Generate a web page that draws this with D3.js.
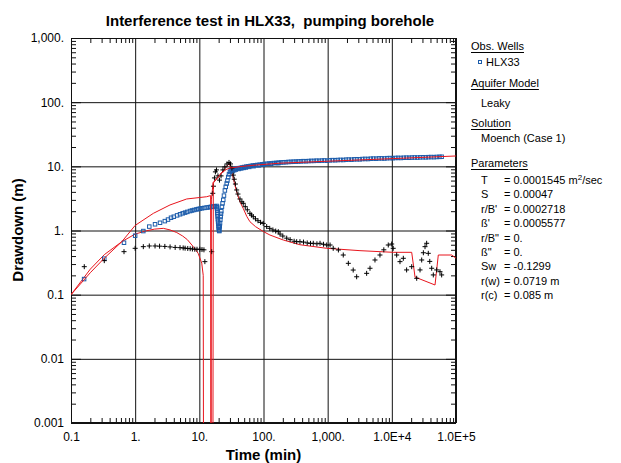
<!DOCTYPE html>
<html>
<head>
<meta charset="utf-8">
<script src="https://cdn.jsdelivr.net/npm/d3@7"></script>
<style>
  body { margin: 0; background: #fff; }
  svg { font-family: "Liberation Sans", Arial, sans-serif; }
  .title { white-space: pre; }
</style>
</head>
<body>
<svg id="chart" width="621" height="463"></svg>
<script>
"use strict";

// ---- data (time in min, drawdown in m) ----
const xDecades = [0.1, 1, 10, 100, 1000, 1e4, 1e5];
const xTickLabels = ["0.1", "1.", "10.", "100.", "1,000.", "1.0E+4", "1.0E+5"];
const yDecades = [0.001, 0.01, 0.1, 1, 10, 100, 1000];
const yTickLabels = ["0.001", "0.01", "0.1", "1.", "10.", "100.", "1,000."];

// HLX33 observed drawdown (blue squares)
const obsHLX33 = [
  [0.16,0.175],[0.33,0.364],[0.67,0.645],[1.0,0.83],[1.34,0.98],[1.66,1.15],[2.04,1.25],
  [2.44,1.32],[2.9,1.40],[3.25,1.48],[3.62,1.58],[4.0,1.64],[4.5,1.72],[5.0,1.79],[5.5,1.85],
  [6.0,1.90],[6.5,1.95],[7.15,2.01],[7.7,2.05],[8.3,2.09],[9.0,2.13],[9.6,2.16],[10.2,2.19],
  [11,2.22],[12,2.25],[13,2.28],[14,2.30],[14.7,2.32],[15.5,2.34],[16.5,2.36],[17.5,2.39],[18.6,2.41],
  [18.8,2.3],[18.9,2.2],[19.0,2.05],[19.1,1.9],[19.2,1.78],[19.3,1.65],[19.45,1.5],[19.6,1.38],
  [19.75,1.27],[19.9,1.17],[20.05,1.1],[20.2,1.04],[20.35,1.0],[20.5,0.98],
  [20.8,1.15],[21.0,1.3],[21.25,1.48],[21.5,1.65],[21.75,1.82],[22.0,2.0],[22.5,2.35],[23.0,2.65],
  [23.6,3.0],[24.2,3.5],[25.0,4.2],[25.8,4.8],[26.7,5.4],[27.4,6.0],[28.2,6.8],[29.0,7.5],[30,8.2],
  [31,8.6],[32,8.8],[34,9.0],[36,9.2],[38,9.25],[40,9.35],[43,9.4],[46,9.6],[50,9.75],[54,9.9],
  [58,10.0],[63,10.15],[68,10.3],[74,10.4],[80,10.5],[87,10.6],[95,10.75],[103,10.85],[112,10.95],
  [122,11.05],[133,11.1],[145,11.25],[158,11.3],[172,11.4],[188,11.5],[205,11.55],[224,11.6],
  [245,11.7],[268,11.75],[293,11.8],[320,11.85],[350,11.9],[383,11.95],[420,12.05],[460,12.0],
  [505,12.1],[555,12.15],[610,12.15],[670,12.25],[735,12.2],[810,12.3],[890,12.35],[980,12.25],
  [1080,12.4],[1190,12.5],[1310,12.45],[1440,12.55],[1590,12.6],[1750,12.55],[1930,12.7],
  [2130,12.75],[2350,12.7],[2590,12.85],[2860,12.9],[3150,12.85],[3480,13.0],[3840,13.05],
  [4240,13.0],[4680,13.15],[5160,13.2],[5700,13.15],[6290,13.3],[6940,13.3],[7660,13.25],
  [8450,13.4],[9330,13.45],[10300,13.4],[11400,13.5],[12500,13.55],[13800,13.5],[15300,13.6],
  [16900,13.65],[18600,13.6],[20500,13.7],[22700,13.75],[25000,13.7],[27600,13.8],[30500,13.85],
  [33700,13.8],[37200,13.9],[41000,13.95],[45300,13.9],[50000,14.0],[55200,14.05],[59800,14.1],
  // lower edge of the scattered band after restart
  [33,8.4],[35,8.7],[37,8.9],[41,9.1],[45,9.3],[49,9.45],[53,9.6],[60,9.8],[70,10.05],
  [85,10.35],[100,10.6],[130,10.9],[170,11.2]
];

// derivative of observed drawdown (black crosses)
const obsDerivative = [
  [0.161,0.273],[0.33,0.339],[0.67,0.468],[1.0,0.528],[1.34,0.56],[1.66,0.574],[2.04,0.574],
  [2.4,0.57],[2.9,0.565],[3.5,0.555],[4.2,0.545],[5.0,0.54],[5.6,0.535],[6.0,0.53],[6.6,0.525],
  [7.2,0.52],[7.8,0.515],[8.5,0.51],[9.2,0.51],[10.2,0.51],[11.0,0.505],[11.8,0.50],
  [12.2,0.327],[15.6,0.468],
  [16.2,3.8],[16.6,4.9],[17.2,6.6],[17.8,8.2],[18.5,8.8],[19.5,7.1],[20.6,6.1],[21.8,7.1],
  [23.3,8.8],[25,9.8],[27,10.9],[29,11.5],[30.6,10.9],[32.2,9.4],[33.8,7.3],[35,6.3],[36.5,5.3],
  [38.2,4.28],[40,3.7],[43,3.1],[46,2.8],[48.4,2.65],[52,2.35],[56,2.1],[61.5,1.85],[65,1.74],
  [69.3,1.64],[75,1.52],[82,1.42],[90,1.34],[99,1.29],[112,1.15],[125,1.08],[140,1.02],
  [155,0.98],[170,0.958],[181,0.88],[200,0.82],[230,0.76],[260,0.72],[300,0.68],[329,0.669],
  [370,0.669],[420,0.66],[480,0.64],[540,0.63],[597,0.632],[680,0.62],[760,0.632],[860,0.61],
  [966,0.594],[1090,0.594],[1220,0.528],[1470,0.497],[1750,0.415],[2100,0.308],[2500,0.242],
  [2830,0.19],[4050,0.215],[4570,0.258],[5460,0.347],[6530,0.415],[7500,0.5],[8800,0.594],
  [9950,0.616],[10500,0.528],[11900,0.415],[13400,0.327],[15100,0.369],[17000,0.243],
  [20400,0.273],[24400,0.18],[27500,0.243],[29200,0.347],[31000,0.45],[32900,0.56],
  [34900,0.632],[37000,0.441],[39000,0.33],[41800,0.258],[44300,0.203],[50000,0.243],
  [56300,0.228],[59800,0.203]
];

// Moench (Case 1) fitted drawdown (red)
const modelDrawdown = [
  [0.1,0.1],[0.2,0.22],[0.33,0.37],[0.62,0.67],[1.0,1.2],[1.92,1.85],[3.49,2.5],[6.35,3.1],
  [13,3.36],[15.0,3.5],[15.1,0.0005],[16.3,0.0005],[16.5,5.5],[19,6.5],[22,7.8],[26,8.9],
  [30,9.4],[43,9.9],[78,10.5],[181,11.2],[966,12.0],[10500,13.2],[100000,14.5]
];

// Moench (Case 1) fitted derivative (red)
const modelDerivative = [
  [0.1,0.1],[0.2,0.25],[0.33,0.42],[0.62,0.67],[1.0,0.88],[1.5,0.99],[2.0,1.05],[2.75,1.08],
  [3.5,1.02],[4.44,0.93],[5.5,0.82],[6.5,0.72],[8.05,0.56],[9.6,0.44],[10.9,0.31],[11.5,0.2],
  [11.6,0.0005],[15.3,0.0005],[15.4,3.0],[16.4,5.6],[20,7.0],[25,9.2],[29.3,11.1],[31.9,8.5],
  [33.8,6.5],[36,5.0],[38.2,4.0],[43,2.8],[48.4,2.2],[55,1.65],[61.5,1.37],[75,1.15],[100,0.96],
  [126,0.85],[204,0.71],[370,0.6],[966,0.528],[3190,0.485],[10500,0.457],[20400,0.457],
  [23000,0.188],[47100,0.1415],[53000,0.415],[85700,0.415],[100000,0.37]
];

const paramNames = ["T", "S", "r/B'", "ß'", "r/B\"", "ß\"", "Sw", "r(w)", "r(c)"];
const paramValues = ["0.0001545", "0.00047", "0.0002718", "0.0005577", "0.", "0.", "-0.1299", "0.0719", "0.085"];
const paramUnits = ["m", "", "", "", "", "", "", "m", "m"];

// ---- layout ----
const svg = d3.select("#chart");
const plotL = 71, plotR = 456, plotT = 38, plotB = 423;

const x = d3.scaleLog().domain([0.1, 1e5]).range([plotL, plotR]);
const y = d3.scaleLog().domain([0.001, 1000]).range([plotB, plotT]);

function minorTicks(decades) {
  const out = [];
  decades.slice(0, -1).forEach(d => {
    for (let k = 2; k < 10; k++) out.push(d * k);
  });
  return out;
}

svg.append("defs").append("clipPath").attr("id", "plot-clip")
  .append("rect").attr("x", plotL).attr("y", plotT)
  .attr("width", plotR - plotL).attr("height", plotB - plotT);

// grid lines at every decade
const grid = svg.append("g").attr("class", "grid");
grid.append("g").attr("transform", `translate(0,${plotB})`)
  .call(d3.axisBottom(x).tickValues(xDecades).tickSize(-(plotB - plotT)).tickFormat(""));
grid.append("g").attr("transform", `translate(${plotL},0)`)
  .call(d3.axisLeft(y).tickValues(yDecades).tickSize(-(plotR - plotL)).tickFormat(""));
grid.selectAll(".domain").remove();
grid.selectAll("line").attr("stroke", "#111").attr("stroke-width", 1);

// inward minor ticks on all four sides
const ticks = svg.append("g").attr("class", "minor");
ticks.append("g").attr("transform", `translate(0,${plotB})`)
  .call(d3.axisBottom(x).tickValues(minorTicks(xDecades)).tickSize(-5).tickFormat(""));
ticks.append("g").attr("transform", `translate(0,${plotT})`)
  .call(d3.axisTop(x).tickValues(minorTicks(xDecades)).tickSize(-5).tickFormat(""));
ticks.append("g").attr("transform", `translate(${plotL},0)`)
  .call(d3.axisLeft(y).tickValues(minorTicks(yDecades)).tickSize(-5).tickFormat(""));
ticks.append("g").attr("transform", `translate(${plotR},0)`)
  .call(d3.axisRight(y).tickValues(minorTicks(yDecades)).tickSize(-5).tickFormat(""));
// a longer mark at each decade on the left/right edges
ticks.append("g").attr("transform", `translate(${plotL},0)`)
  .call(d3.axisLeft(y).tickValues(yDecades).tickSize(-10).tickFormat(""));
ticks.append("g").attr("transform", `translate(${plotR},0)`)
  .call(d3.axisRight(y).tickValues(yDecades).tickSize(-10).tickFormat(""));
ticks.selectAll(".domain").remove();
ticks.selectAll("line").attr("stroke", "#111");

// frame
svg.append("rect")
  .attr("x", plotL + 0.5).attr("y", plotT + 0.5)
  .attr("width", plotR - plotL - 1).attr("height", plotB - plotT - 1)
  .attr("fill", "none").attr("stroke", "#111");

// tick labels
const xLab = svg.append("g").attr("transform", `translate(0,${plotB})`)
  .call(d3.axisBottom(x).tickValues(xDecades).tickSize(0).tickPadding(9.5)
    .tickFormat((d, i) => xTickLabels[i]));
const yLab = svg.append("g").attr("transform", `translate(${plotL},0)`)
  .call(d3.axisLeft(y).tickValues(yDecades).tickSize(0).tickPadding(7)
    .tickFormat((d, i) => yTickLabels[i]));
[xLab, yLab].forEach(g => {
  g.select(".domain").remove();
  g.selectAll("text").attr("font-size", 12).attr("fill", "#000")
    .attr("font-family", "Liberation Sans, Arial, sans-serif");
});

// ---- data marks ----
const plot = svg.append("g").attr("clip-path", "url(#plot-clip)");
const line = d3.line().x(d => x(d[0])).y(d => y(d[1]));

plot.append("path").datum(modelDerivative)
  .attr("d", line).attr("fill", "none").attr("stroke", "#e8141c").attr("stroke-width", 1);

plot.selectAll(".obs").data(obsHLX33).enter().append("rect")
  .attr("class", "obs")
  .attr("x", d => x(d[0]) - 1.75).attr("y", d => y(d[1]) - 1.75)
  .attr("width", 3.5).attr("height", 3.5)
  .attr("fill", "none").attr("stroke", "#1c5cab").attr("stroke-width", 1);

plot.selectAll(".der").data(obsDerivative).enter().append("path")
  .attr("class", "der")
  .attr("transform", d => `translate(${x(d[0])},${y(d[1])})`)
  .attr("d", "M-2.5,0H2.5M0,-2.5V2.5")
  .attr("stroke", "#000").attr("stroke-width", 1);

plot.append("path").datum(modelDrawdown)
  .attr("d", line).attr("fill", "none").attr("stroke", "#e8141c").attr("stroke-width", 1);

// ---- titles ----
svg.append("text").attr("class", "title").attr("x", 270).attr("y", 26).attr("text-anchor", "middle")
  .attr("font-size", 15).attr("font-weight", "bold")
  .text("Interference test in HLX33,  pumping borehole");
svg.append("text").attr("x", (plotL + plotR) / 2).attr("y", 460).attr("text-anchor", "middle")
  .attr("font-size", 15).attr("font-weight", "bold").text("Time (min)");
svg.append("text").attr("transform", "translate(23,230) rotate(-90)").attr("text-anchor", "middle")
  .attr("font-size", 15).attr("font-weight", "bold").text("Drawdown (m)");

// ---- legend / parameter box ----
const leg = svg.append("g").attr("font-size", 11);

function heading(txt, yy) {
  const t = leg.append("text").attr("x", 471).attr("y", yy).text(txt);
  const w = t.node().getComputedTextLength();
  leg.append("line").attr("x1", 471).attr("x2", 471 + w)
    .attr("y1", yy + 2.5).attr("y2", yy + 2.5).attr("stroke", "#000").attr("stroke-width", 1);
}

heading("Obs. Wells", 50);
leg.append("rect").attr("x", 478.5).attr("y", 60.5).attr("width", 3).attr("height", 3)
  .attr("fill", "none").attr("stroke", "#1c5cab");
leg.append("text").attr("x", 486).attr("y", 66).text("HLX33");
heading("Aquifer Model", 87);
leg.append("text").attr("x", 481).attr("y", 107).text("Leaky");
heading("Solution", 127);
leg.append("text").attr("x", 481).attr("y", 142).text("Moench (Case 1)");
heading("Parameters", 167);

paramNames.forEach((name, i) => {
  const yy = 184 + i * 14.4;
  leg.append("text").attr("x", 481).attr("y", yy).text(name);
  const v = leg.append("text").attr("x", 504).attr("y", yy);
  v.append("tspan").text("= " + paramValues[i]);
  if (i === 0) {
    v.append("tspan").text(" m");
    v.append("tspan").attr("baseline-shift", "super").attr("font-size", 8).text("2");
    v.append("tspan").text("/sec");
  } else if (paramUnits[i]) {
    v.append("tspan").text(" " + paramUnits[i]);
  }
});
</script>
</body>
</html>
